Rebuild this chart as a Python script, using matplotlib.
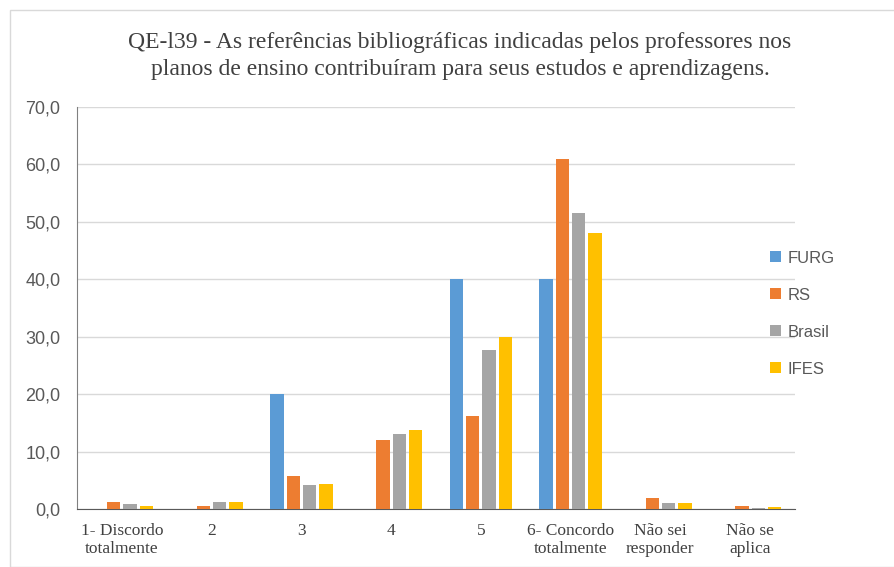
import matplotlib.pyplot as plt
import numpy as np
from matplotlib.ticker import FuncFormatter
from matplotlib.patches import Rectangle

categories = ['1- Discordo\ntotalmente', '2', '3', '4', '5',
              '6- Concordo\ntotalmente', 'Não sei\nresponder', 'Não se\naplica']
furg = [0.0, 0.0, 20.0, 0.0, 40.0, 40.0, 0.0, 0.0]
rs = [1.3, 0.6, 5.7, 12.0, 16.2, 61.0, 2.0, 0.6]
brasil = [0.8, 1.3, 4.1, 13.1, 27.6, 51.6, 1.0, 0.2]
ifes = [0.6, 1.3, 4.4, 13.8, 29.9, 48.1, 1.0, 0.4]
series = ['FURG', 'RS', 'Brasil', 'IFES']
colors = ['#5b9bd5', '#ed7d31', '#a5a5a5', '#ffc000']

fig = plt.figure(figsize=(8.95, 5.67), dpi=100)
ax = fig.add_axes([77 / 895, 1 - 509 / 567, 718 / 895, 402 / 567])

x = np.arange(len(categories))
step = 0.182
w = 0.148
for i, (name, vals) in enumerate(zip(series, [furg, rs, brasil, ifes])):
    ax.bar(x + (i - 1.5) * step, vals, w, color=colors[i], label=name, zorder=3)

ax.set_xlim(-0.5, len(categories) - 0.5)
ax.set_ylim(0, 70)
ax.set_yticks(np.arange(0, 71, 10))
ax.yaxis.set_major_formatter(FuncFormatter(lambda v, p: f'{v:.1f}'.replace('.', ',')))
ax.grid(axis='y', color='#d9d9d9', linewidth=1, zorder=0)
for s in ['top', 'right']:
    ax.spines[s].set_visible(False)
ax.spines['bottom'].set_color('#595959')
ax.spines['left'].set_color('#808080')
ax.tick_params(axis='both', length=0, colors='#595959')
ax.set_xticks(x)
ax.set_xticklabels(categories, family='Liberation Serif', fontsize=12.5, color='#404040', linespacing=1.15)
for lab in ax.get_yticklabels():
    lab.set_family('Liberation Sans')
    lab.set_fontsize(13)
ax.tick_params(axis='x', pad=10)
ax.tick_params(axis='y', pad=12)

fig.text(460 / 895, 1 - 56 / 567,
         'QE-l39 - As referências bibliográficas indicadas pelos professores nos\n'
         'planos de ensino contribuíram para seus estudos e aprendizagens.',
         ha='center', va='center', family='Liberation Serif', fontsize=17,
         color='#404040', linespacing=1.4)

ax.legend(loc='center left', bbox_to_anchor=((770 - 77) / 718, 0.486), frameon=False,
          borderaxespad=0, borderpad=0,
          prop={'family': 'Liberation Sans', 'size': 12}, labelcolor='#595959',
          handlelength=0.65, handleheight=0.65, labelspacing=1.32, handletextpad=0.4)

fig.patches.append(Rectangle((10 / 895, 0), 1.0, 1 - 10 / 567, transform=fig.transFigure,
                             fill=False, edgecolor='#d9d9d9', linewidth=1))

fig.savefig('out.png', dpi=100)
